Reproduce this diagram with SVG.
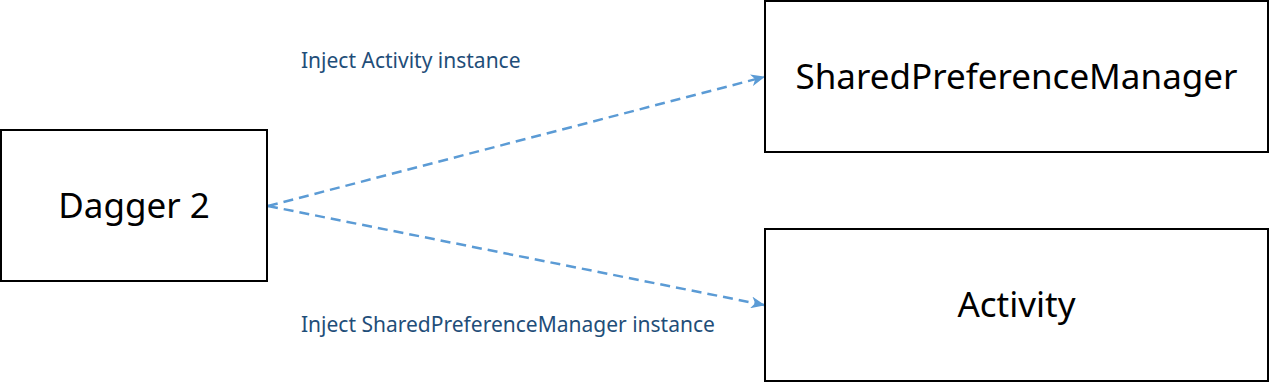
<svg xmlns="http://www.w3.org/2000/svg" width="1269" height="382" viewBox="0 0 1269 382">
<style>
.box{fill:#fff;stroke:#000;stroke-width:2}
.big{font-family:"Noto Sans","Open Sans",sans-serif;font-size:35px;fill:#000;text-anchor:middle}
.lbl{font-family:"Noto Sans","Open Sans",sans-serif;font-size:21px;fill:#1F4E79}
.edge{fill:none;stroke:#5B9BD5;stroke-width:2.5;stroke-dasharray:10 6}
</style>
<defs>
<marker id="arr" viewBox="0 0 14 12" refX="13" refY="6" markerWidth="14" markerHeight="12" markerUnits="userSpaceOnUse" orient="auto">
<path d="M0,0 L14,6 L0,12 L4,6 Z" fill="#5B9BD5"/>
</marker>
</defs>
<g id="connectors">
<line class="edge" x1="268" y1="206" x2="764" y2="77" marker-end="url(#arr)"/>
<line class="edge" x1="268" y1="206" x2="764" y2="305" marker-end="url(#arr)"/>
<text class="lbl" x="301" y="68">Inject Activity instance</text>
<text class="lbl" x="301" y="332">Inject SharedPreferenceManager instance</text>
</g>
<g id="dagger">
<rect class="box" x="1" y="130" width="266" height="151"/>
<text class="big" x="134" y="218">Dagger 2</text>
</g>
<g id="spm">
<rect class="box" x="765" y="1" width="503" height="151"/>
<text class="big" x="1016.5" y="89">SharedPreferenceManager</text>
</g>
<g id="activity">
<rect class="box" x="765" y="229" width="503" height="152"/>
<text class="big" x="1016.5" y="317">Activity</text>
</g>
</svg>
